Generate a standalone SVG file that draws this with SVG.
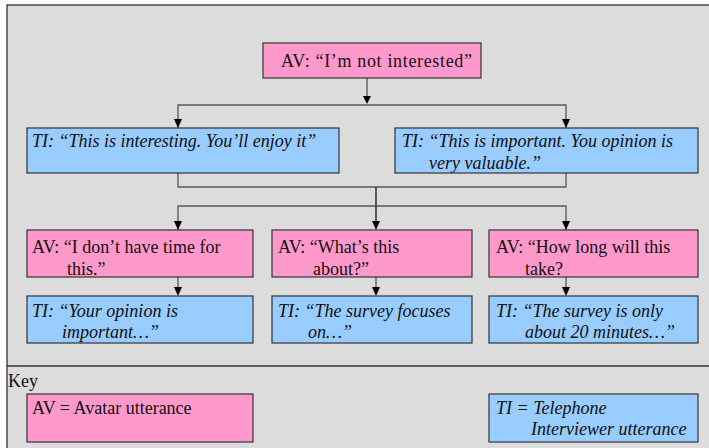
<svg xmlns="http://www.w3.org/2000/svg" width="709" height="448" viewBox="0 0 709 448">
<defs>
<style>
.frame{fill:#dcdcdc;stroke:#333;stroke-width:1.3}
.av{fill:#ff99cc;stroke:#333;stroke-width:1.2}
.ti{fill:#99ccff;stroke:#333;stroke-width:1.2}
.t{font-family:"Liberation Serif",Tinos,"Times New Roman",Times,"DejaVu Serif",serif;font-size:18px;fill:#111}
.i{font-style:italic}
.c{fill:none;stroke:#555;stroke-width:1.3}
</style>
<clipPath id="clipR"><rect x="395" y="128" width="303" height="44.5"/></clipPath>
</defs>
<rect class="frame" x="7" y="5" width="710" height="450"/>
<line x1="7" y1="366" x2="709" y2="366" stroke="#333" stroke-width="1.3"/>
<g id="connectors">
<path class="c" d="M367,78 V96"/>
<path d="M363,96 L371,96 L367,104 Z" fill="#000"/>
<path class="c" d="M178,128 V105 H566 V128"/>
<path d="M174,119 L182,119 L178,128 Z" fill="#000"/>
<path d="M562,119 L570,119 L566,128 Z" fill="#000"/>
<path class="c" d="M178,173 V187 H566 V173"/>
<line x1="376" y1="187" x2="376" y2="206" stroke="#111" stroke-width="1.3"/>
<path class="c" d="M178,230 V206 H566 V230"/>
<line x1="376" y1="206" x2="376" y2="222" stroke="#111" stroke-width="1.3"/>
<path d="M174,221 L182,221 L178,230 Z" fill="#000"/>
<path d="M372,221 L380,221 L376,230 Z" fill="#000"/>
<path d="M562,221 L570,221 L566,230 Z" fill="#000"/>
<path class="c" d="M178,277 V288"/>
<path class="c" d="M376,277 V288"/>
<path class="c" d="M566,277 V288"/>
<path d="M174,287 L182,287 L178,296 Z" fill="#000"/>
<path d="M372,287 L380,287 L376,296 Z" fill="#000"/>
<path d="M562,287 L570,287 L566,296 Z" fill="#000"/>
</g>
<g id="av-top">
<rect class="av" x="263" y="43" width="218" height="35"/>
<text class="t" x="281" y="67" textLength="191" lengthAdjust="spacing">AV: “I’m not interested”</text>
</g>
<g id="ti-left">
<rect class="ti" x="27" y="128" width="312" height="45"/>
<text class="t i" x="32" y="147">TI: “This is interesting. You’ll enjoy it”</text>
</g>
<g id="ti-right">
<rect class="ti" x="395" y="128" width="303" height="45"/>
<g clip-path="url(#clipR)">
<text class="t i" x="402" y="147">TI: “This is important. You opinion is</text>
<text class="t i" x="429" y="169">very valuable.”</text>
</g>
</g>
<g id="av-1">
<rect class="av" x="27" y="230" width="226" height="47"/>
<text class="t" x="32" y="253">AV: “I don’t have time for</text>
<text class="t" x="67" y="275">this.”</text>
</g>
<g id="av-2">
<rect class="av" x="272" y="230" width="200" height="47"/>
<text class="t" x="278" y="253">AV: “What’s this</text>
<text class="t" x="313" y="275">about?”</text>
</g>
<g id="av-3">
<rect class="av" x="489" y="230" width="209" height="47"/>
<text class="t" x="496" y="253">AV: “How long will this</text>
<text class="t" x="525" y="275">take?</text>
</g>
<g id="ti-1">
<rect class="ti" x="27" y="296" width="226" height="47"/>
<text class="t i" x="32" y="317">TI: “Your opinion is</text>
<text class="t i" x="62" y="338">important…”</text>
</g>
<g id="ti-2">
<rect class="ti" x="272" y="296" width="200" height="47"/>
<text class="t i" x="278" y="317">TI: “The survey focuses</text>
<text class="t i" x="308" y="338">on…”</text>
</g>
<g id="ti-3">
<rect class="ti" x="489" y="296" width="209" height="47"/>
<text class="t i" x="496" y="317">TI: “The survey is only</text>
<text class="t i" x="525" y="338">about 20 minutes…”</text>
</g>
<text class="t" x="8" y="387">Key</text>
<g id="key-av">
<rect class="av" x="27" y="394" width="226" height="48"/>
<text class="t" x="32" y="414">AV = Avatar utterance</text>
</g>
<g id="key-ti">
<rect class="ti" x="489" y="394" width="209" height="48"/>
<text class="t i" x="496" y="414">TI = Telephone</text>
<text class="t i" x="531" y="435">Interviewer utterance</text>
</g>
</svg>
